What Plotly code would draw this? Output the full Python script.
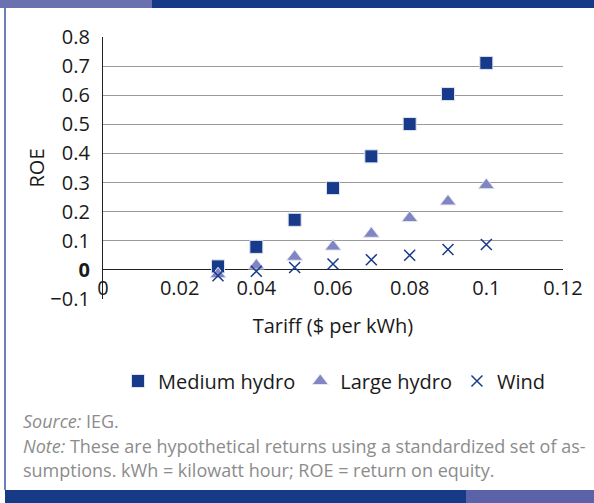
import plotly.graph_objects as go

tariff = [0.03, 0.04, 0.05, 0.06, 0.07, 0.08, 0.09, 0.10]
medium_hydro = [0.012, 0.079, 0.172, 0.281, 0.39, 0.501, 0.604, 0.711]
large_hydro = [-0.015, 0.015, 0.045, 0.08, 0.124, 0.178, 0.235, 0.291]
wind = [-0.02, -0.005, 0.008, 0.02, 0.035, 0.05, 0.07, 0.087]

y_ticks = [-0.1, 0, 0.1, 0.2, 0.3, 0.4, 0.5, 0.6, 0.7, 0.8]
y_tick_text = ["\u22120.1", "<b>0</b>", "0.1", "0.2", "0.3", "0.4", "0.5", "0.6", "0.7", "0.8"]
grid_ticks = [0.1, 0.2, 0.3, 0.4, 0.5, 0.6, 0.7, 0.8]
x_ticks = [0, 0.02, 0.04, 0.06, 0.08, 0.1, 0.12]
x_tick_text = ["0", "0.02", "0.04", "0.06", "0.08", "0.1", "0.12"]

NAVY = "#173a8a"
LAV = "#7f86c2"
FONT = "Open Sans"
FS = 20

W, H = 594, 503
L, R, T, B = 103, 563, 37, 299


def px(x):
    return (x - L) / (R - L)


def py(y):
    return (B - y) / (B - T)


fig = go.Figure()
fig.add_trace(go.Scatter(x=tariff, y=medium_hydro, mode="markers", name="Medium hydro",
                         marker=dict(symbol="square", size=13, color=NAVY,
                                     line=dict(color="#dfe3f0", width=1))))
fig.add_trace(go.Scatter(x=tariff, y=large_hydro, mode="markers", name="Large hydro",
                         marker=dict(symbol="triangle-up", size=14, color=LAV,
                                     line=dict(color="#e4e6f2", width=1))))
fig.add_trace(go.Scatter(x=tariff, y=wind, mode="markers", name="Wind",
                         marker=dict(symbol="x-thin", size=11, color=NAVY,
                                     line=dict(color=NAVY, width=1.5))))
# invisible trace to draw gridlines on an overlaid axis
fig.add_trace(go.Scatter(x=[None], y=[None], yaxis="y2", showlegend=False, hoverinfo="skip"))

zero_pos = (0 - y_ticks[0]) / (y_ticks[-1] - y_ticks[0])

fig.update_layout(
    width=W, height=H,
    margin=dict(l=L, r=W - R, t=T, b=H - B),
    paper_bgcolor="white", plot_bgcolor="white",
    font=dict(family=FONT, size=FS, color="#1a1a1a"),
    xaxis=dict(range=[0, 0.12], tickvals=x_ticks, ticktext=x_tick_text,
               anchor="free", position=zero_pos, showgrid=False, zeroline=False,
               showline=False, ticks="", ticklabelstandoff=4,
               tickfont=dict(size=FS),
               title=dict(text="Tariff ($ per kWh)", standoff=19, font=dict(size=FS))),
    yaxis=dict(range=[-0.1, 0.8], tickvals=y_ticks, ticktext=y_tick_text,
               showgrid=False, zeroline=True, zerolinecolor="#222222", zerolinewidth=1.2,
               showline=True, linecolor="#222222", linewidth=1.2, ticks="",
               ticklabelstandoff=8, tickfont=dict(size=FS),
               title=dict(text="ROE", standoff=0, font=dict(size=FS))),
    yaxis2=dict(range=[-0.1, 0.8], overlaying="y", tickvals=grid_ticks, showticklabels=False,
                showgrid=True, gridcolor="#9a9a9a", gridwidth=1, zeroline=False, showline=False),
    legend=dict(orientation="h", x=px(334), xanchor="center", y=py(381), yanchor="middle",
                font=dict(size=FS), itemwidth=30, tracegroupgap=0, bgcolor="rgba(0,0,0,0)"),
    showlegend=True,
)

shapes = [
    dict(type="rect", xref="paper", yref="paper", x0=px(0), x1=px(152), y0=py(8), y1=py(0),
         fillcolor="#6b70ae", line=dict(width=0), layer="above"),
    dict(type="rect", xref="paper", yref="paper", x0=px(152), x1=px(594), y0=py(8), y1=py(0),
         fillcolor="#163a88", line=dict(width=0), layer="above"),
    dict(type="line", xref="paper", yref="paper", x0=px(5), x1=px(5), y0=py(8), y1=py(490),
         line=dict(color="#3a55a0", width=1.5)),
    dict(type="rect", xref="paper", yref="paper", x0=px(5), x1=px(466), y0=py(503), y1=py(490),
         fillcolor="#163a88", line=dict(width=0)),
    dict(type="rect", xref="paper", yref="paper", x0=px(466), x1=px(594), y0=py(503), y1=py(490),
         fillcolor="#5c62a8", line=dict(width=0)),
]
fig.update_layout(shapes=shapes)

GRAY = "#8c8c8c"
notes = [
    ("<i>Source:</i> IEG.", 421),
    ("<i>Note:</i> These are hypothetical returns using a standardized set of as-", 446),
    ("sumptions. kWh = kilowatt hour; ROE = return on equity.", 470),
]
for txt, yy in notes:
    fig.add_annotation(text=txt, xref="paper", yref="paper", x=px(21), y=py(yy),
                       xanchor="left", yanchor="middle", showarrow=False,
                       font=dict(family=FONT, size=18, color=GRAY))

fig.write_html("out.html")
